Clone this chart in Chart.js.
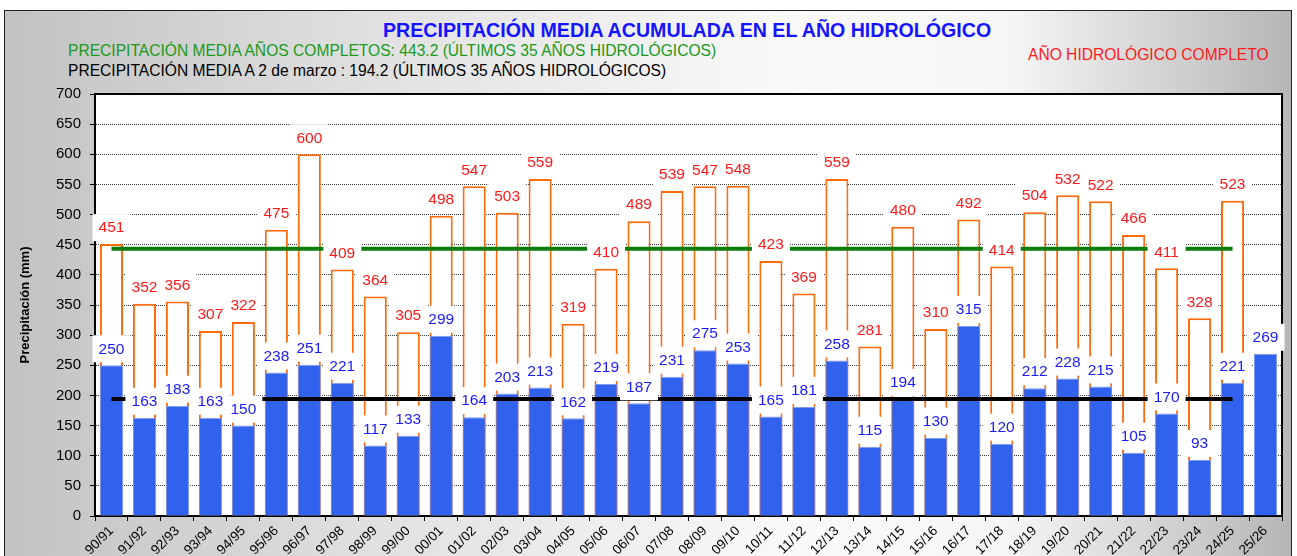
<!DOCTYPE html>
<html>
<head>
<meta charset="utf-8">
<script src="https://cdn.jsdelivr.net/npm/chart.js@4.4.1/dist/chart.umd.min.js"></script>
<style>
  html, body { margin: 0; padding: 0; background: #fff; overflow: hidden; }
  #marco {
    position: absolute; left: 4px; top: 10px; width: 1286px; height: 560px;
    border: 1px solid #222;
    background: linear-gradient(to right, #c2c2c2 0%, #e2e2e2 30%, #fafafa 62%, #f6f6f6 78%, #b6b6b6 100%);
  }
  #grafico { position: absolute; left: 0; top: 0; }
  .txt { position: absolute; font-family: "Liberation Sans", Arial, sans-serif; white-space: nowrap; }
</style>
</head>
<body>
<div id="marco"></div>
<div class="txt" style="left:383px;top:19px;font-size:19.6px;font-weight:bold;color:#1414ff;">PRECIPITACIÓN MEDIA ACUMULADA EN EL AÑO HIDROLÓGICO</div>
<div class="txt" style="left:68px;top:42px;font-size:15.6px;color:#1a9a1a;">PRECIPITACIÓN MEDIA AÑOS COMPLETOS: 443.2 (ÚLTIMOS 35 AÑOS HIDROLÓGICOS)</div>
<div class="txt" style="left:68px;top:62px;font-size:15.6px;color:#000;">PRECIPITACIÓN MEDIA A 2 de marzo : 194.2 (ÚLTIMOS 35 AÑOS HIDROLÓGICOS)</div>
<div class="txt" style="left:1028px;top:46px;font-size:15.6px;color:#ff1a1a;">AÑO HIDROLÓGICO COMPLETO</div>
<canvas id="grafico" width="1297" height="556"></canvas>
<script>
// Años hidrológicos
const temporadas = ['90/91','91/92','92/93','93/94','94/95','95/96','96/97','97/98','98/99','99/00',
  '00/01','01/02','02/03','03/04','04/05','05/06','06/07','07/08','08/09','09/10',
  '10/11','11/12','12/13','13/14','14/15','15/16','16/17','17/18','18/19','19/20',
  '20/21','21/22','22/23','23/24','24/25','25/26'];

// Precipitación del año completo (mm)
const anioCompleto = [451, 352, 356, 307, 322, 475, 600, 409, 364, 305,
  498, 547, 503, 559, 319, 410, 489, 539, 547, 548,
  423, 369, 559, 281, 480, 310, 492, 414, 504, 532,
  522, 466, 411, 328, 523, null];

// Precipitación acumulada a 2 de marzo (mm)
const aFecha = [250, 163, 183, 163, 150, 238, 251, 221, 117, 133,
  299, 164, 203, 213, 162, 219, 187, 231, 275, 253,
  165, 181, 258, 115, 194, 130, 315, 120, 212, 228,
  215, 105, 170, 93, 221, 269];

const mediaCompleta = 443.2;
const mediaFecha = 194.2;

// las medias se dibujan sobre los 35 años cerrados
const lineaCompleta = anioCompleto.map(v => v == null ? null : mediaCompleta);
const lineaFecha = anioCompleto.map(v => v == null ? null : mediaFecha);

const fuente = '"Liberation Sans", Arial, sans-serif';

// fondo blanco y marco del área de trazado
const fondoArea = {
  id: 'fondoArea',
  beforeDraw(chart) {
    const a = chart.chartArea;
    const ctx = chart.ctx;
    ctx.save();
    ctx.fillStyle = '#fff';
    ctx.fillRect(a.left, a.top, a.right - a.left, a.bottom - a.top);
    ctx.restore();
  },
  beforeDatasetsDraw(chart) {
    const a = chart.chartArea;
    const ctx = chart.ctx;
    ctx.save();
    ctx.strokeStyle = '#000';
    ctx.lineWidth = 2;
    ctx.strokeRect(a.left, a.top, a.right - a.left, a.bottom - a.top);
    ctx.restore();
  }
};

// etiquetas de valor con caja blanca
const etiquetas = {
  id: 'etiquetas',
  afterDatasetsDraw(chart) {
    const ctx = chart.ctx;
    const escalaY = chart.scales.y;
    ctx.save();
    ctx.font = '15.5px ' + fuente;
    ctx.textAlign = 'center';
    ctx.textBaseline = 'middle';
    [[0, '#ff1a1a'], [1, '#1a1aff']].forEach(([d, color]) => {
      const meta = chart.getDatasetMeta(d);
      meta.data.forEach((barra, i) => {
        const v = chart.data.datasets[d].data[i];
        if (v == null) return;
        const tope = escalaY.getPixelForValue(v);
        ctx.fillStyle = '#fff';
        ctx.fillRect(barra.x - 19, tope - 30, 38, 27);
        ctx.fillStyle = color;
        ctx.fillText(String(v), barra.x, tope - 16);
      });
    });
    ctx.restore();
  }
};

new Chart(document.getElementById('grafico'), {
  type: 'bar',
  data: {
    labels: temporadas,
    datasets: [
      {
        label: 'Año hidrológico completo',
        data: anioCompleto,
        backgroundColor: '#ffffff',
        borderColor: '#ff6a0a',
        borderWidth: 2,
        borderSkipped: 'bottom',
        grouped: false,
        barPercentage: 0.7,
        categoryPercentage: 1,
        order: 3
      },
      {
        label: 'A 2 de marzo',
        data: aFecha,
        backgroundColor: '#3162ee',
        borderColor: '#7f9cf0',
        borderWidth: 1,
        borderSkipped: 'bottom',
        grouped: false,
        barPercentage: 0.7,
        categoryPercentage: 1,
        order: 2
      },
      {
        type: 'line',
        label: 'Media años completos',
        data: lineaCompleta,
        borderColor: '#0a7d0a',
        borderWidth: 4,
        pointRadius: 0,
        fill: false,
        order: 1
      },
      {
        type: 'line',
        label: 'Media a 2 de marzo',
        data: lineaFecha,
        borderColor: '#000000',
        borderWidth: 4,
        pointRadius: 0,
        fill: false,
        order: 1
      }
    ]
  },
  options: {
    responsive: false,
    animation: false,
    layout: { padding: { top: 94, right: 15, left: 16, bottom: 0 } },
    plugins: {
      legend: { display: false },
      tooltip: { enabled: false }
    },
    scales: {
      x: {
        afterFit(scale) { scale.height = 40; },
        grid: { display: true, drawOnChartArea: false, drawTicks: true, tickLength: 5, tickColor: '#000' },
        border: { color: '#000', width: 2 },
        ticks: {
          color: '#000',
          font: { family: fuente, size: 13.5 },
          minRotation: 45,
          maxRotation: 45,
          autoSkip: false,
          padding: 2
        }
      },
      y: {
        min: 0,
        max: 700,
        afterFit(scale) { scale.width = 79; },
        grid: { color: '#3a3a3a', lineWidth: 1, tickLength: 5, tickColor: '#000' },
        border: { color: '#000', width: 2, dash: [1, 1] },
        ticks: {
          stepSize: 50,
          color: '#000',
          font: { family: fuente, size: 15 },
          padding: 9
        },
        title: {
          display: true,
          text: 'Precipitación (mm)',
          color: '#000',
          font: { family: fuente, size: 13, weight: 'bold' },
          padding: 2
        }
      }
    }
  },
  plugins: [fondoArea, etiquetas]
});
</script>
</body>
</html>
